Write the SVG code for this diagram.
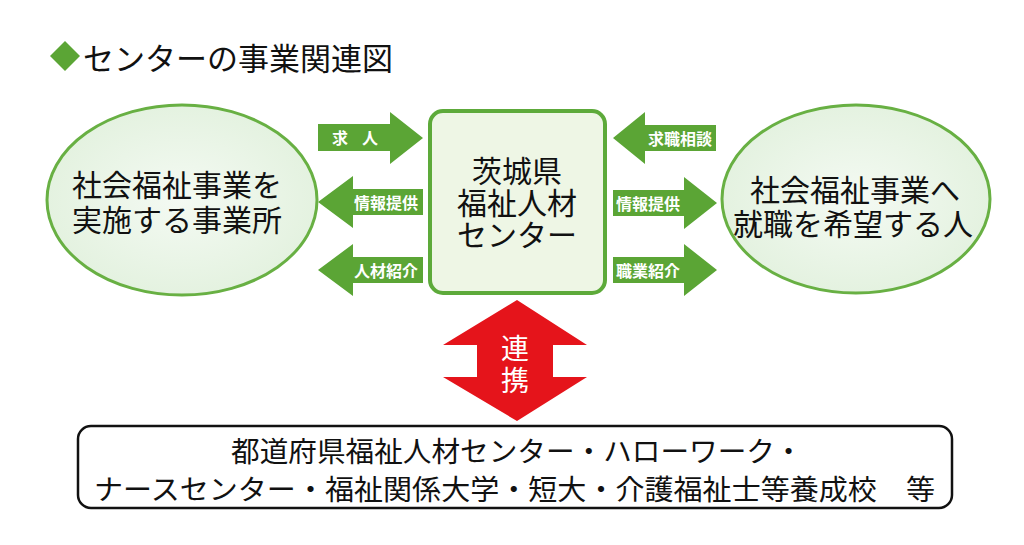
<svg xmlns="http://www.w3.org/2000/svg" width="1024" height="545" viewBox="0 0 1024 545">
<defs>
<radialGradient id="eg" cx="50%" cy="50%" r="50%">
<stop offset="0" stop-color="#f4faf3"/>
<stop offset="1" stop-color="#e4f2e0"/>
</radialGradient>
<style>
text{font-family:"Noto Sans CJK JP","Noto Sans",sans-serif;dominant-baseline:central}
.big{font-size:30px;fill:#111;text-anchor:middle}
.lbl{font-size:16px;font-weight:bold;fill:#fff;text-anchor:middle}
.garrow{fill:#5ba535}
.ell{fill:url(#eg);stroke:#68b043;stroke-width:3}
.red{font-size:28px;fill:#fff;text-anchor:middle}
</style>
</defs>
<rect width="1024" height="545" fill="#ffffff"/>
<g id="title">
<polygon points="65,41 80,56 65,71 50,56" fill="#5ba535"/>
<text x="83" y="56" style="font-size:31px;fill:#111">センターの事業関連図</text>
</g>
<g id="left-node">
<ellipse class="ell" cx="182" cy="200" rx="135" ry="95"/>
<text class="big" x="177" y="183">社会福祉事業を</text>
<text class="big" x="177" y="218">実施する事業所</text>
</g>
<g id="center-node">
<rect x="430" y="111" width="175" height="182" rx="13" fill="#eef6e5" stroke="#5daa3a" stroke-width="4"/>
<text class="big" x="517" y="169">茨城県</text>
<text class="big" x="517" y="201">福祉人材</text>
<text class="big" x="517" y="233">センター</text>
</g>
<g id="right-node">
<ellipse class="ell" cx="856" cy="199" rx="134" ry="94"/>
<text class="big" x="855" y="188">社会福祉事業へ</text>
<text class="big" x="853" y="222">就職を希望する人</text>
</g>
<g id="partners-node">
<rect x="78" y="426" width="874" height="82" rx="13" fill="#ffffff" stroke="#111" stroke-width="2.5"/>
<text x="231" y="450" style="font-size:28px;fill:#111" textLength="572" lengthAdjust="spacingAndGlyphs">都道府県福祉人材センター・ハローワーク・</text>
<text x="94" y="488" style="font-size:28px;fill:#111" textLength="841" lengthAdjust="spacingAndGlyphs">ナースセンター・福祉関係大学・短大・介護福祉士等養成校　等</text>
</g>
<g id="connectors">
<g id="arrow-kyujin">
<polygon class="garrow" points="318,124 390,124 390,112 423,138 390,164 390,151 318,151"/>
<text class="lbl" x="340" y="137">求</text>
<text class="lbl" x="370" y="137">人</text>
</g>
<g id="arrow-joho-left">
<polygon class="garrow" points="318,202 353,176 353,189 423,189 423,215 353,215 353,228"/>
<text class="lbl" x="386" y="202">情報提供</text>
</g>
<g id="arrow-jinzai">
<polygon class="garrow" points="318,270 353,244 353,257 423,257 423,283 353,283 353,296"/>
<text class="lbl" x="386" y="270">人材紹介</text>
</g>
<g id="arrow-kyushoku">
<polygon class="garrow" points="613,138 645,112 645,125 716,125 716,151 645,151 645,164"/>
<text class="lbl" x="680" y="138">求職相談</text>
</g>
<g id="arrow-joho-right">
<polygon class="garrow" points="613,190 684,190 684,177 717,203 684,229 684,216 613,216"/>
<text class="lbl" x="648" y="203">情報提供</text>
</g>
<g id="arrow-shokugyo">
<polygon class="garrow" points="613,257 684,257 684,244 717,270 684,296 684,283 613,283"/>
<text class="lbl" x="648" y="270">職業紹介</text>
</g>
<g id="arrow-renkei">
<polygon points="517,300 587,345 553,345 553,377 587,377 517,421 443,377 477,377 477,345 443,345" fill="#e5141b"/>
<text class="red" x="515" y="347">連</text>
<text class="red" x="515" y="379">携</text>
</g>
</g>
</svg>
